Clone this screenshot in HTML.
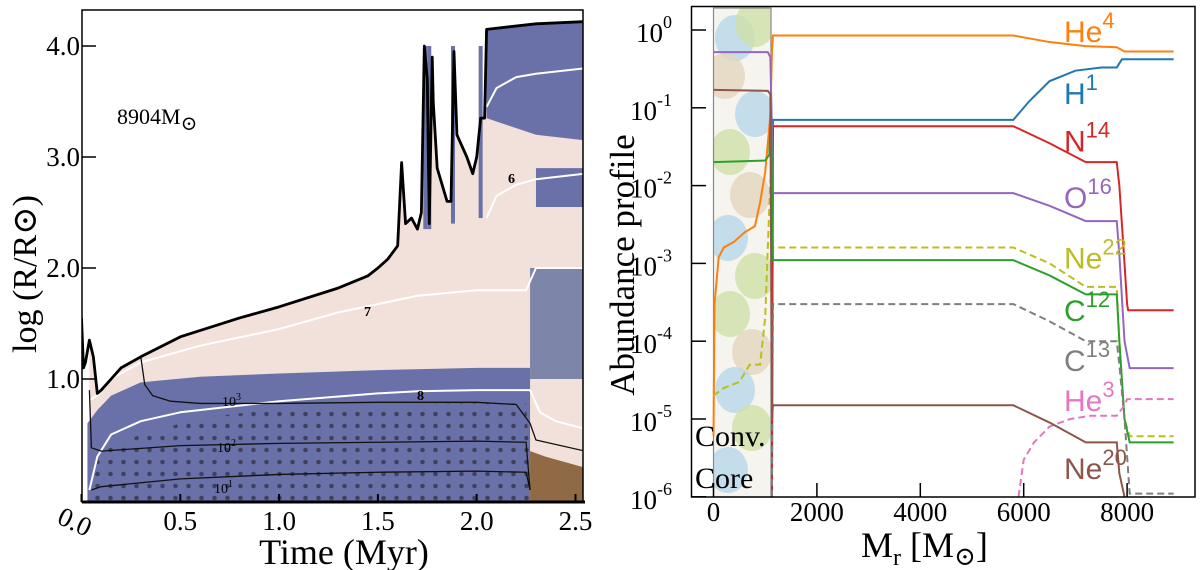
<!DOCTYPE html>
<html><head><meta charset="utf-8">
<style>
html,body{margin:0;padding:0;background:#fff;}
svg{display:block;}
.serif{font-family:"Liberation Serif","DejaVu Serif",serif;}
.sans{font-family:"Liberation Sans","DejaVu Sans",sans-serif;}
</style></head>
<body>
<svg id="fig" width="1200" height="570" viewBox="0 0 1200 570" xmlns="http://www.w3.org/2000/svg">
<defs>
<pattern id="dots" width="13" height="12" patternUnits="userSpaceOnUse">
<circle cx="6.5" cy="6" r="2.3" fill="#3f4160"/>
</pattern>
<clipPath id="clipL"><rect x="82" y="10" width="501" height="492"/></clipPath>
<clipPath id="clipR"><rect x="691.5" y="6.5" width="503.5" height="490.5"/></clipPath>
<clipPath id="clipCore"><rect x="713.5" y="8" width="57.5" height="489"/></clipPath>
</defs>
<g id="left"></g>
<g id="right"></g>
</svg>
<script>
// ---------- LEFT PANEL DATA (time Myr, log R/Rsun) ----------
const leftXTicks=[0.0,0.5,1.0,1.5,2.0,2.5];
const leftXTickLabels=["0.0","0.5","1.0","1.5","2.0","2.5"];
const leftYTicks=[1.0,2.0,3.0,4.0];
const leftYTickLabels=["1.0","2.0","3.0","4.0"];
const surfaceT=[0,0.01,0.02,0.04,0.06,0.08,0.1,0.15,0.2,0.25,0.3,0.5,0.8,1.0,1.3,1.45,1.5,1.55,1.6,1.62,1.64,1.67,1.7,1.72,1.735,1.75,1.76,1.775,1.78,1.8,1.85,1.87,1.885,1.9,1.95,1.98,2.0,2.02,2.04,2.05,2.3,2.55];
const surfaceR=[1.55,1.1,1.15,1.35,1.2,0.87,0.9,1.0,1.1,1.15,1.2,1.38,1.55,1.65,1.82,1.93,2.0,2.08,2.2,2.95,2.4,2.45,2.35,2.5,4.0,3.7,2.4,3.9,3.5,2.9,2.6,2.6,3.95,3.2,3.0,2.85,3.0,3.35,3.35,4.15,4.2,4.22];
const envT=[0.03,0.08,0.15,0.3,0.6,1.0,1.5,2.0,2.25,2.27];
const envTop=[0.6,0.72,0.85,0.97,1.02,1.05,1.08,1.1,1.1,1.1];
const coreT=[0.05,0.1,0.3,0.6,1.0,1.5,2.0,2.25,2.27];
const coreTop=[0.1,0.35,0.5,0.65,0.73,0.77,0.78,0.78,0.2];
const lateBlueT=[2.05,2.3,2.55];
const lateBlueLo=[3.35,3.2,3.15];
const lateBlueHi=[4.15,4.2,4.22];
const band2T=[2.3,2.55]; const band2Lo=[2.55,2.55]; const band2Hi=[2.9,2.9];
const band3T=[2.27,2.55]; const band3Lo=[1.0,1.0]; const band3Hi=[2.0,2.0];
const brownT=[2.27,2.35,2.45,2.55]; const brownTop=[0.35,0.3,0.25,0.2];
const spikeT=[1.74,1.76,1.88,2.02]; const spikeLo=[2.35,2.35,2.4,2.45];
const c1000T=[0.3,0.32,0.36,0.45,0.6,1.0,1.5,2.0,2.2,2.27,2.3,2.55];
const c1000R=[1.2,0.95,0.85,0.8,0.78,0.78,0.79,0.79,0.77,0.6,0.45,0.35];
const c100T=[0.04,0.05,0.1,0.5,1.0,1.5,2.0,2.25,2.27];
const c100R=[0.9,0.38,0.35,0.4,0.42,0.43,0.44,0.43,0.0];
const c10T=[0.05,0.1,0.5,1.0,1.5,2.0,2.25,2.27];
const c10R=[0.0,0.03,0.1,0.14,0.16,0.17,0.16,0.0];
const w8T=[0.04,0.08,0.15,0.3,0.5,1.0,1.5,1.7,2.0,2.27,2.32,2.4,2.55];
const w8R=[0.0,0.3,0.5,0.62,0.7,0.8,0.87,0.89,0.9,0.9,0.7,0.62,0.55];
const w7T=[0.03,0.08,0.15,0.3,0.6,1.0,1.3,1.7,2.0,2.25,2.3,2.55];
const w7R=[0.8,0.85,1.0,1.15,1.3,1.45,1.6,1.75,1.8,1.8,2.0,2.0];
const w6T=[2.05,2.1,2.2,2.3,2.55]; const w6R=[2.45,2.65,2.75,2.8,2.85];
const w5T=[2.05,2.1,2.2,2.3,2.55]; const w5R=[3.45,3.62,3.72,3.75,3.8];

// ---------- RIGHT PANEL DATA (Mr Msun, abundance) ----------
const rightXTicks=[0,2000,4000,6000,8000];
const rightYExp=[0,-1,-2,-3,-4,-5,-6];
const species=[
 {name:"He4",color:"#ff7f0e",dash:false,m:[0,20,100,200,400,600,800,900,1000,1100,1130,1150,5800,6500,7200,7800,7950,8900],a:[6e-6,3e-4,1.2e-3,1.6e-3,1.9e-3,2.5e-3,3e-3,6e-3,1.5e-2,0.08,0.5,0.85,0.85,0.7,0.62,0.6,0.53,0.53]},
 {name:"H1",color:"#1f77b4",dash:false,m:[1130,1150,5800,6100,6500,7000,7500,7800,7900,8900],a:[1e-6,0.07,0.07,0.12,0.22,0.3,0.33,0.33,0.42,0.42]},
 {name:"N14",color:"#d62728",dash:false,m:[1130,1150,5800,6500,7200,7800,7850,7950,8000,8020,8900],a:[1e-6,0.058,0.058,0.035,0.02,0.02,0.01,1e-3,3e-4,2.5e-4,2.5e-4]},
 {name:"O16",color:"#9467bd",dash:false,m:[0,1050,1100,1130,1150,5800,6500,7200,7800,7850,7950,8050,8900],a:[0.52,0.52,0.45,0.05,0.008,0.008,0.0055,0.0035,0.0035,0.0013,1e-4,4.5e-5,4.5e-5]},
 {name:"Ne22",color:"#bcbd22",dash:true,m:[0,200,500,700,900,1000,1100,1150,5800,6500,7200,7800,7850,7950,8050,8900],a:[2e-5,2.5e-5,3e-5,5e-5,5e-5,2e-4,1.2e-2,1.6e-3,1.6e-3,1e-3,5e-4,5e-4,1e-4,1e-5,6e-6,6e-6]},
 {name:"C12",color:"#2ca02c",dash:false,m:[0,1000,1080,1110,1150,5800,6500,7200,7800,7850,7950,8050,8900],a:[0.02,0.021,0.025,0.1,1.1e-3,1.1e-3,7e-4,4e-4,4e-4,1e-4,1e-5,5e-6,5e-6]},
 {name:"C13",color:"#7f7f7f",dash:true,m:[1130,1150,5800,6500,7200,7800,7850,7950,8050,8900],a:[1e-6,3e-4,3e-4,1.8e-4,1e-4,1e-4,5e-5,1e-5,1.1e-6,1.1e-6]},
 {name:"He3",color:"#e377c2",dash:true,m:[5900,6000,6200,6500,6900,7300,7800,7950,8000,8100,8900],a:[1e-6,3e-6,5e-6,8e-6,1e-5,1.1e-5,1.1e-5,1.5e-5,1.8e-5,1.8e-5,1.8e-5]},
 {name:"Ne20",color:"#8c564b",dash:false,m:[0,1050,1100,1130,1150,5800,6500,7200,7800,7850,7950],a:[0.17,0.165,0.15,1e-5,1.5e-5,1.5e-5,9e-6,5e-6,5e-6,2e-6,1e-6]}
];
const labelEl=["He","H","N","O","Ne","C","C","He","Ne"];
const labelIso=["4","1","14","16","22","12","13","3","20"];
const labelAbund=[1.0,0.16,0.039,0.0074,1.23e-3,2.6e-4,5.9e-5,1.8e-5,2.4e-6];

const NS="http://www.w3.org/2000/svg";
function mk(tag,attrs,parent){const e=document.createElementNS(NS,tag);for(const k in attrs)e.setAttribute(k,attrs[k]);parent.appendChild(e);return e;}
const xL=t=>81.5+t*197.6;
const yL=v=>379-(v-1)*111;
const xR=m=>713.5+m*0.0517;
const yR=a=>30-Math.log10(a)*77.8;

const L=document.getElementById('left');
const gL=mk('g',{'clip-path':'url(#clipL)'},L);
function band(ts,lo,hi,fill,name){
  let d='M'+ts.map((t,i)=>xL(t)+','+yL(hi[i])).join('L');
  for(let i=ts.length-1;i>=0;i--)d+='L'+xL(ts[i])+','+(lo===null?510:yL(lo[i]));
  const p=mk('path',{d:d+'Z',fill:fill},gL);
  
  
  return p;
}
band(surfaceT.slice(3),null,surfaceR.slice(3),'#f2e1da','radiative-region');
band(envT,null,envTop,'#6a71a8','convective-envelope');
spikeT.forEach((t,i)=>{
  const r=mk('rect',{x:xL(t)-2,y:yL(4.0),width:4,height:yL(spikeLo[i])-yL(4.0),fill:'#6a71a8'},gL);
  
  
});
band(lateBlueT,lateBlueLo,lateBlueHi,'#6a71a8','late-convective-zone');
band(band2T,band2Lo,band2Hi,'#6a71a8','late-convective-band');
band(band3T,band3Lo,band3Hi,'#7d86a8','late-mixed-band');
band(coreT,null,coreTop,'#6a71a8','convective-core');
band(coreT,null,coreTop,'url(#dots)','core-dots');
band(brownT,null,brownTop,'#8f6a45','brown-region');
function line(ts,rs,stroke,w,name){
  const p=mk('path',{d:'M'+ts.map((t,i)=>xL(t)+','+yL(rs[i])).join('L'),fill:'none',stroke:stroke,'stroke-width':w,'stroke-linejoin':'round'},gL);
  
  
}
line(w8T,w8R,'#fff',2,'contour-8');
line(w7T,w7R,'#fff',2,'contour-7');
line(w6T,w6R,'#fff',2,'contour-6');
line(w5T,w5R,'#fff',2,'contour-5');
line(c1000T,c1000R,'#111',1.3,'contour-1e3');
line(c100T,c100R,'#111',1.3,'contour-1e2');
line(c10T,c10R,'#111',1.3,'contour-1e1');
line(surfaceT,surfaceR,'#000',2.8,'stellar-surface');
function clab(x,y,txt,sup,name,bold){
  const t=mk('text',{x:x,y:y,'font-size':14,class:'serif','font-weight':bold?'bold':'normal'},L);
  t.textContent=txt;
  if(sup){const s=mk('tspan',{dy:-6,'font-size':10},t);s.textContent=sup;}
  
  
}
clab(222,406,'10','3','contour-label-1e3');
clab(217,452,'10','2','contour-label-1e2');
clab(214,493,'10','1','contour-label-1e1');
clab(364,316,'7',null,'contour-label-7',true);
clab(417,400,'8',null,'contour-label-8',true);
clab(508,183,'6',null,'contour-label-6',true);
const fr=mk('rect',{x:82,y:10,width:501,height:492,fill:'none',stroke:'#000','stroke-width':1.5},L);

mk('line',{x1:82,y1:502,x2:585,y2:502,stroke:'#000','stroke-width':3},L);
leftXTicks.forEach((v,i)=>{
  mk('line',{x1:xL(v),y1:502,x2:xL(v),y2:494,stroke:'#000','stroke-width':2},L);
  const t=mk('text',{x:xL(v),y:530,'font-size':27,'text-anchor':'middle',class:'serif'},L);
  if(i===0){t.setAttribute('transform','rotate(25 '+(xL(v)-8)+' 520)');t.setAttribute('x',xL(v)-6);}
  t.textContent=leftXTickLabels[i];
  
});
leftYTicks.forEach((v,i)=>{
  mk('line',{x1:82,y1:yL(v),x2:96,y2:yL(v),stroke:'#000','stroke-width':1.5},L);
  const t=mk('text',{x:80,y:yL(v)+9,'font-size':27,'text-anchor':'end',class:'serif'},L);
  t.textContent=leftYTickLabels[i];
  
});
</script>
<script>
const R=document.getElementById('right');
const gc=mk('g',{'clip-path':'url(#clipCore)'},R);

mk('rect',{x:713.5,y:8,width:57.5,height:489,fill:'#f6f4ee'},gc);
[[735,38,'#b6d7e8'],[755,24,'#cfe0a6'],[725,76,'#e4d6bd'],[755,114,'#b6d7e8'],[730,152,'#cfe0a6'],[750,195,'#e4d6bd'],[728,238,'#b6d7e8'],[755,276,'#cfe0a6'],[730,314,'#cfe0a6'],[752,352,'#e4d6bd'],[735,390,'#b6d7e8'],[752,428,'#cfe0a6'],[728,470,'#b6d7e8']].forEach(b=>{
  mk('ellipse',{cx:b[0],cy:b[1],rx:20,ry:23,fill:b[2],opacity:0.8},gc);
});
mk('rect',{x:713.5,y:8,width:57.5,height:489,fill:'none',stroke:'#888','stroke-width':1.2},R);
const gR=mk('g',{'clip-path':'url(#clipR)'},R);
species.forEach(s=>{
  const p=mk('path',{d:'M'+s.m.map((m,i)=>xR(m)+','+yR(s.a[i])).join('L'),fill:'none',stroke:s.color,'stroke-width':2,'stroke-dasharray':s.dash?'7,4':'none'},gR);
  
  
});
species.forEach((s,i)=>{
  const t=mk('text',{x:1064,y:yR(labelAbund[i])+12,'font-size':30,fill:s.color,class:'sans'},R);
  t.textContent=labelEl[i];
  const sp=mk('tspan',{dy:-14,'font-size':22},t);sp.textContent=labelIso[i];
  
  
});
const fr2=mk('rect',{x:691.5,y:6.5,width:503.5,height:490.5,fill:'none',stroke:'#000','stroke-width':1.5},R);

rightXTicks.forEach(v=>{
  mk('line',{x1:xR(v),y1:497,x2:xR(v),y2:483,stroke:'#000','stroke-width':1.5},R);
  const t=mk('text',{x:xR(v),y:521,'font-size':27,'text-anchor':'middle',class:'serif'},R);
  t.textContent=String(v);
  
});
rightYExp.forEach(e=>{
  mk('line',{x1:691.5,y1:yR(Math.pow(10,e)),x2:706,y2:yR(Math.pow(10,e)),stroke:'#000','stroke-width':1.5},R);
  const t=mk('text',{x:672,y:yR(Math.pow(10,e))+12,'font-size':27,'text-anchor':'end',class:'serif'},R);
  t.textContent='10';
  const s=mk('tspan',{dy:-14,'font-size':18},t);s.textContent=String(e);
  
});
function txt(parent,x,y,size,str,name,extra){
  const t=mk('text',Object.assign({x:x,y:y,'font-size':size,class:'serif'},extra||{}),parent);
  t.textContent=str;return t;
}
txt(R,695,446,30,'Conv.','conv-label');
txt(R,695,488,30,'Core','core-label');
txt(R,0,0,35,'Abundance profile','y-axis-title',{transform:'translate(634,265) rotate(-90)','text-anchor':'middle'});
const mt=txt(R,861,557,36,'M','x-axis-title');
const ms=mk('tspan',{dy:8,'font-size':24},mt);ms.textContent='r';
const ms2=mk('tspan',{dy:-8},mt);ms2.textContent=' [M';
const ms3=mk('tspan',{dy:8,'font-size':26},mt);ms3.textContent='⊙';
const ms4=mk('tspan',{dy:-8},mt);ms4.textContent=']';
txt(L,0,0,34,'log (R/R⊙)','y-axis-title',{transform:'translate(36,274) rotate(-90)','text-anchor':'middle'});
txt(L,344,564,36,'Time (Myr)','x-axis-title',{'text-anchor':'middle'});
const mlab=txt(L,117,124,22,'8904M','mass-label');
const mls=mk('tspan',{dy:6,'font-size':20},mlab);mls.textContent='⊙';
</script>
</body></html>
